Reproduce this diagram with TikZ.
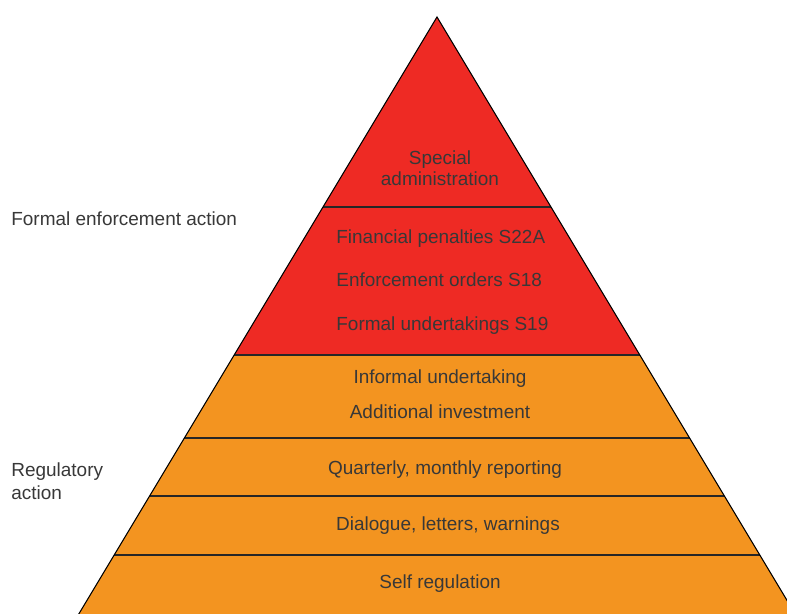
\documentclass[tikz,border=0pt]{standalone}
\usepackage{fontspec}
\setmainfont{Liberation Sans}
\usetikzlibrary{positioning, calc}
\definecolor{tierred}{HTML}{EE2A24}
\definecolor{tierorange}{HTML}{F39420}
\definecolor{inkgrey}{HTML}{383838}
\tikzset{
  tier/.style={draw=none},
  divider/.style={draw=black!85, line width=0.6pt},
  outline/.style={draw=black, line width=0.6pt, line join=miter},
  tierlabel/.style={text=inkgrey, font=\fontsize{10.8}{13.3}\selectfont, inner sep=0pt, align=center},
  sidelabel/.style={text=inkgrey, font=\fontsize{10.8}{13.3}\selectfont, inner sep=0pt, align=left, anchor=west}
}

\begin{document}
\begin{tikzpicture}[x=0.02cm, y=-0.02cm]
  \useasboundingbox (0,0) rectangle (787,613);
  \clip (0,0) rectangle (787,613);
  % Pyramid corners
  \coordinate (apex) at (437,17);
  \coordinate (baseL) at (69.2,630);
  \coordinate (baseR) at (804.8,630);

  % Tiers
  \begin{scope}
    \clip (apex) -- (baseL) -- (baseR) -- cycle;
    \fill[tierred] (0,0) rectangle (787,355);
    \fill[tierorange] (0,355) rectangle (787,640);
    \foreach \y in {207,355,438,496,555}
      \draw[divider] (0,\y) -- (800,\y);
  \end{scope}
  \draw[outline] (baseL) -- (apex) -- (baseR);

  % Nodes
  \node[tierlabel] (special) at (440,168) {Special\\[-1.5pt]administration};
  \node[tierlabel, anchor=west] (penalties) at (336,239) {Financial penalties S22A};
  \node[tierlabel, anchor=west] (orders) at (336,280) {Enforcement orders S18};
  \node[tierlabel, anchor=west] (formal) at (336,326) {Formal undertakings S19};
  \node[tierlabel] (informal) at (440,379) {Informal undertaking};
  \node[tierlabel] (investment) at (440,412) {Additional investment};
  \node[tierlabel] (reporting) at (445,470) {Quarterly, monthly reporting};
  \node[tierlabel] (dialogue) at (448,526) {Dialogue, letters, warnings};
  \node[tierlabel] (selfreg) at (440,584) {Self regulation};

  % Labels
  \node[sidelabel] (enforcement) at (11,219) {Formal enforcement action};
  \node[sidelabel] (regulatory) at (11,481) {Regulatory\\action};
\end{tikzpicture}
\end{document}
